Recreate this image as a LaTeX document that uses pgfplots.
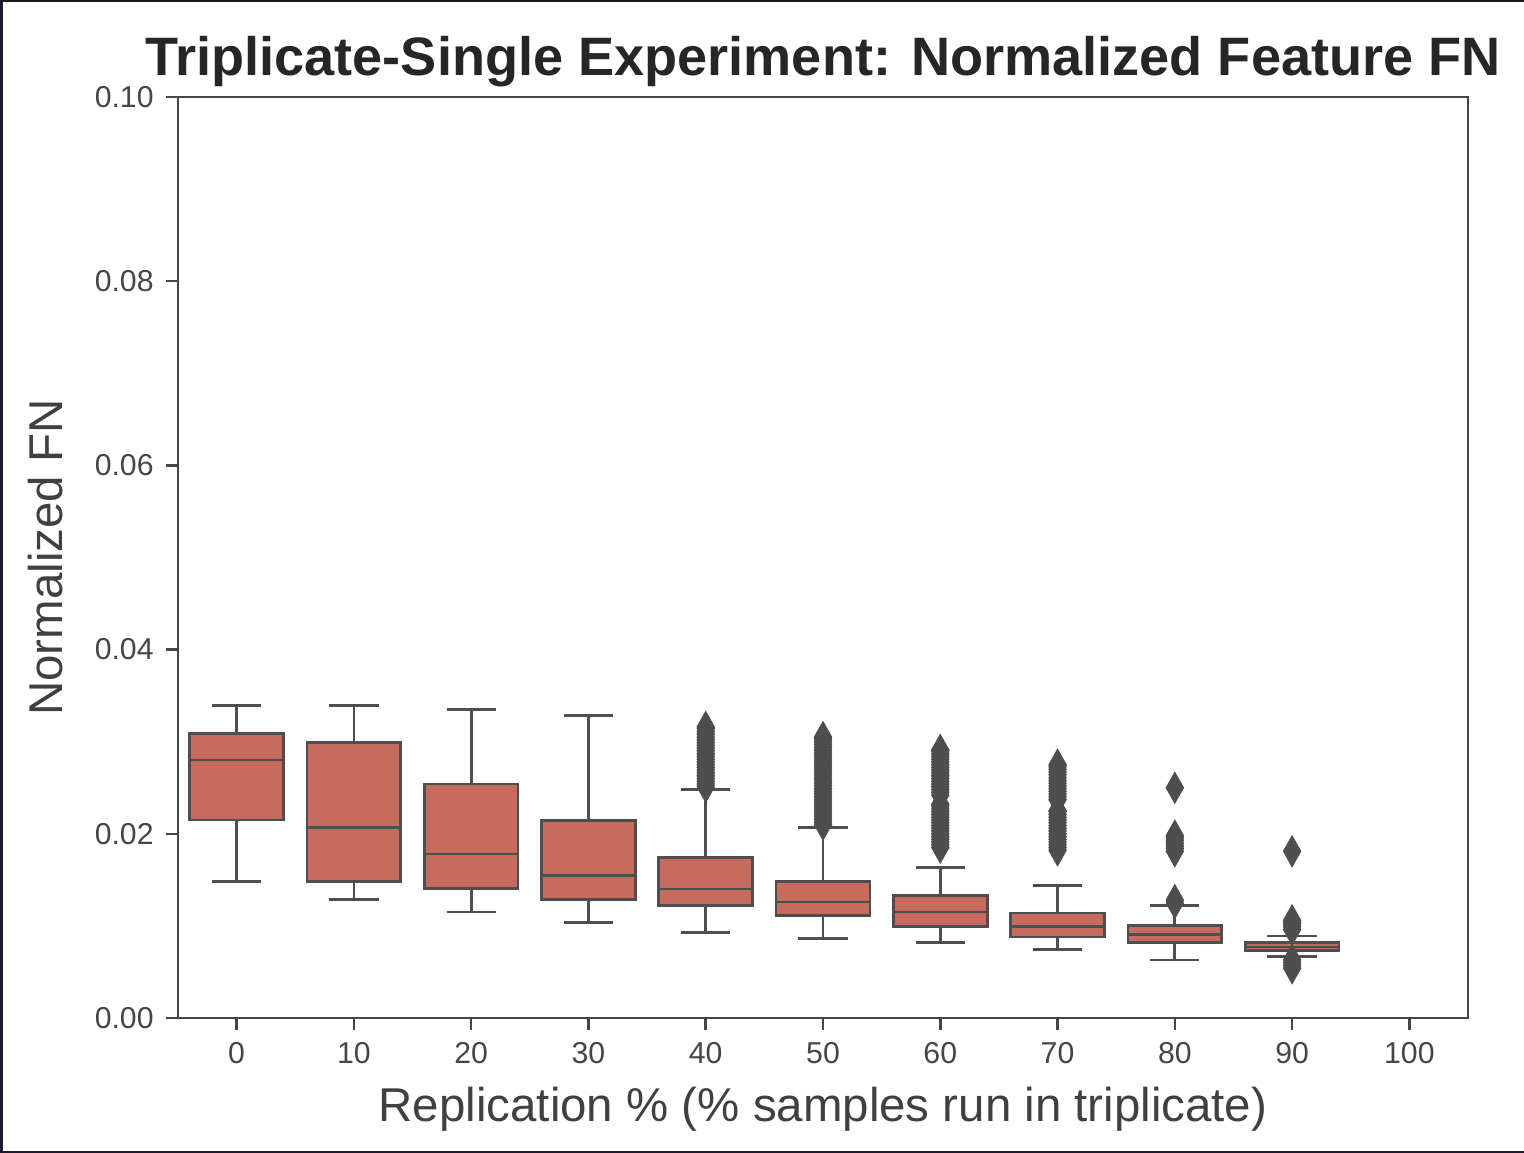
\documentclass[border=0pt]{standalone}
\usepackage{pgfplots}
\pgfplotsset{compat=1.18}
\usepgfplotslibrary{statistics}
\usepackage{fontspec}
\setmainfont{Liberation Sans}
\definecolor{boxred}{RGB}{199,107,95}
\definecolor{linegray}{RGB}{78,78,78}
\definecolor{axgray}{RGB}{70,70,70}
\definecolor{framecol}{RGB}{28,27,45}
\begin{document}
\begin{tikzpicture}
\useasboundingbox (0,0) rectangle (15.24cm,11.53cm);
\fill[white] (0,0) rectangle (15.24cm,11.53cm);
\begin{axis}[
    at={(1.78cm,1.35cm)}, anchor=south west,
    scale only axis,
    width=12.9cm, height=9.21cm,
    xmin=-0.5, xmax=10.5,
    ymin=0, ymax=0.1,
    xtick={0,1,2,3,4,5,6,7,8,9,10},
    xticklabels={0,10,20,30,40,50,60,70,80,90,100},
    ytick={0,0.02,0.04,0.06,0.08,0.1},
    yticklabel style={/pgf/number format/.cd, fixed, fixed zerofill, precision=2},
    scaled y ticks=false,
    /pgf/number format/assume math mode=true,
    tick pos=left, tick align=outside,
    major tick length=1.2mm,
    tick style={axgray, line width=0.25mm},
    axis line style={axgray, line width=0.25mm},
    ticklabel style={font=\fontsize{8.6}{10}\selectfont, text=axgray},
    title={\bfseries Triplicate-Single Experiment: Normalized Feature FN},
    title style={font=\fontsize{15.4}{18}\selectfont, text=black!85, at={(axis description cs:0.5,1)}, anchor=base, yshift=0mm},
    xlabel={Replication \% (\% samples run in triplicate)},
    xlabel style={font=\fontsize{13.5}{16}\selectfont, text=black!75, at={(axis description cs:0.5,0)}, anchor=base, yshift=-10.4mm},
    ylabel={Normalized FN},
    ylabel style={font=\fontsize{13.5}{16}\selectfont, text=black!75, at={(axis description cs:0,0.5)}, anchor=base, rotate=0, yshift=11.6mm},
    boxplot/draw direction=y,
    boxplot/box extend=0.8,
    boxplot/whisker extend=0.42,
]
% boxes
\addplot[boxplot prepared={draw position=0, median=0.0280, upper quartile=0.0309, lower quartile=0.0215, upper whisker=0.0339, lower whisker=0.0148}, fill=boxred, draw=linegray, line width=0.28mm] coordinates {};
\addplot[boxplot prepared={draw position=1, median=0.0207, upper quartile=0.0299, lower quartile=0.0148, upper whisker=0.0339, lower whisker=0.0129}, fill=boxred, draw=linegray, line width=0.28mm] coordinates {};
\addplot[boxplot prepared={draw position=2, median=0.0178, upper quartile=0.0254, lower quartile=0.0141, upper whisker=0.0335, lower whisker=0.0115}, fill=boxred, draw=linegray, line width=0.28mm] coordinates {};
\addplot[boxplot prepared={draw position=3, median=0.0155, upper quartile=0.0214, lower quartile=0.0129, upper whisker=0.0328, lower whisker=0.0104}, fill=boxred, draw=linegray, line width=0.28mm] coordinates {};
\addplot[boxplot prepared={draw position=4, median=0.0140, upper quartile=0.0174, lower quartile=0.0122, upper whisker=0.0248, lower whisker=0.0093}, fill=boxred, draw=linegray, line width=0.28mm] coordinates {};
\addplot[boxplot prepared={draw position=5, median=0.0126, upper quartile=0.0148, lower quartile=0.0111, upper whisker=0.0207, lower whisker=0.0086}, fill=boxred, draw=linegray, line width=0.28mm] coordinates {};
\addplot[boxplot prepared={draw position=6, median=0.0115, upper quartile=0.0133, lower quartile=0.0099, upper whisker=0.0163, lower whisker=0.0082}, fill=boxred, draw=linegray, line width=0.28mm] coordinates {};
\addplot[boxplot prepared={draw position=7, median=0.0099, upper quartile=0.0114, lower quartile=0.0088, upper whisker=0.0144, lower whisker=0.0074}, fill=boxred, draw=linegray, line width=0.28mm] coordinates {};
\addplot[boxplot prepared={draw position=8, median=0.0091, upper quartile=0.0100, lower quartile=0.0082, upper whisker=0.0122, lower whisker=0.0063}, fill=boxred, draw=linegray, line width=0.28mm] coordinates {};
\addplot[boxplot prepared={draw position=9, median=0.0077, upper quartile=0.0082, lower quartile=0.0073, upper whisker=0.0089, lower whisker=0.0067}, fill=boxred, draw=linegray, line width=0.28mm] coordinates {};
% outliers
\addplot[only marks, mark=diamond*, mark size=1.5mm, mark options={xscale=0.75, fill=linegray, draw=linegray}] coordinates {
 (4,0.0251) (4,0.0254) (4,0.0257) (4,0.0260) (4,0.0263) (4,0.0266) (4,0.0269) (4,0.0272)
 (4,0.0275) (4,0.0278) (4,0.0281) (4,0.0284) (4,0.0287) (4,0.0290) (4,0.0293) (4,0.0296)
 (4,0.0299) (4,0.0302) (4,0.0305) (4,0.0308) (4,0.0311) (4,0.0314) (4,0.0316)
 (5,0.0210) (5,0.0213) (5,0.0216) (5,0.0219) (5,0.0222) (5,0.0225) (5,0.0228) (5,0.0231)
 (5,0.0234) (5,0.0237) (5,0.0240) (5,0.0243) (5,0.0246) (5,0.0249) (5,0.0252) (5,0.0255)
 (5,0.0258) (5,0.0261) (5,0.0264) (5,0.0267) (5,0.0270) (5,0.0273) (5,0.0276) (5,0.0279)
 (5,0.0282) (5,0.0285) (5,0.0288) (5,0.0291) (5,0.0294) (5,0.0297) (5,0.0300) (5,0.0303) (5,0.0305)
 (6,0.0185) (6,0.0188) (6,0.0191) (6,0.0194) (6,0.0197) (6,0.0200) (6,0.0203) (6,0.0206)
 (6,0.0209) (6,0.0212) (6,0.0215) (6,0.0218) (6,0.0221) (6,0.0224) (6,0.0227) (6,0.0230) (6,0.0232)
 (6,0.0242) (6,0.0245) (6,0.0248) (6,0.0251) (6,0.0254) (6,0.0257) (6,0.0260) (6,0.0263)
 (6,0.0266) (6,0.0269) (6,0.0272) (6,0.0275) (6,0.0278) (6,0.0281) (6,0.0284) (6,0.0287) (6,0.0290) (6,0.0291)
 (7,0.0182) (7,0.0185) (7,0.0188) (7,0.0191) (7,0.0194) (7,0.0197) (7,0.0200) (7,0.0203)
 (7,0.0206) (7,0.0209) (7,0.0212) (7,0.0215) (7,0.0218) (7,0.0221) (7,0.0224) (7,0.0225)
 (7,0.0237) (7,0.0240) (7,0.0243) (7,0.0246) (7,0.0249) (7,0.0252) (7,0.0255) (7,0.0258)
 (7,0.0261) (7,0.0264) (7,0.0267) (7,0.0270) (7,0.0273) (7,0.0275)
 (8,0.0250)
 (8,0.0181) (8,0.0184) (8,0.0187) (8,0.0190) (8,0.0193) (8,0.0196) (8,0.0198)
 (8,0.0125) (8,0.0128)
 (9,0.0181)
 (9,0.0096) (9,0.0099) (9,0.0102) (9,0.0104) (9,0.0106)
 (9,0.0054) (9,0.0057) (9,0.0060) (9,0.0063)
};
\end{axis}
\fill[framecol] (0,0) rectangle (0.03cm,11.53cm);
\fill[framecol] (0,11.51cm) rectangle (15.24cm,11.53cm);
\fill[framecol] (0,0) rectangle (15.24cm,0.02cm);
\end{tikzpicture}
\end{document}
